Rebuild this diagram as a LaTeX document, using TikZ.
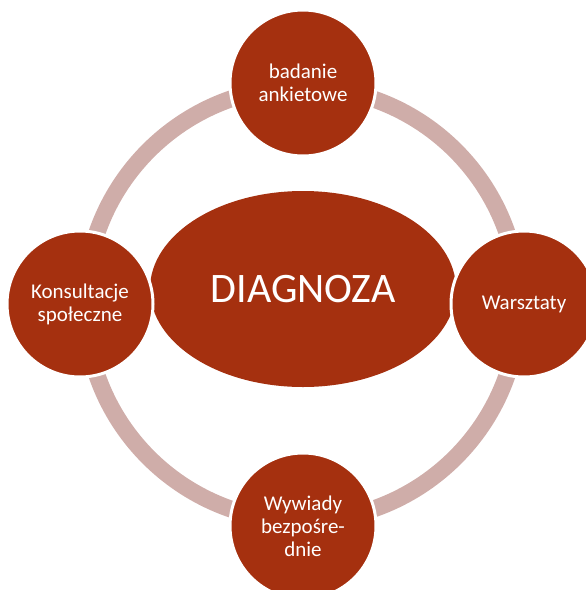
\documentclass[tikz,border=0pt]{standalone}
\usepackage{fontspec}
\setmainfont{Carlito}
\usetikzlibrary{shapes.geometric}
\definecolor{rust}{HTML}{A5300F}
\definecolor{ringrose}{HTML}{CFADA9}
\begin{document}
\begin{tikzpicture}[x=1pt,y=-1pt,
    hub/.style={ellipse,fill=rust,text=white,minimum width=306pt,minimum height=196pt,inner sep=0pt,font=\fontsize{42}{46}\selectfont},
    spoke/.style={circle,fill=rust,draw=white,line width=3pt,text=white,minimum size=146pt,inner sep=0pt,align=center,font=\fontsize{21}{23}\selectfont},
    ring/.style={draw=ringrose,line width=17pt}]
    \useasboundingbox (0,0) rectangle (586,590);
    \coordinate (mid) at (302,304);
    \draw[ring] (mid) circle (217pt);
    \node[hub] (diag) at (303,289) {DIAGNOZA};
    \node[spoke] (ankieta) at (303,83) {badanie\\ankietowe};
    \node[spoke] (warsztaty) at (524,304) {Warsztaty};
    \node[spoke] (wywiady) at (303,526) {Wywiady\\bezpośre-\\dnie};
    \node[spoke] (konsultacje) at (80,304) {Konsultacje\\społeczne};
\end{tikzpicture}
\end{document}
